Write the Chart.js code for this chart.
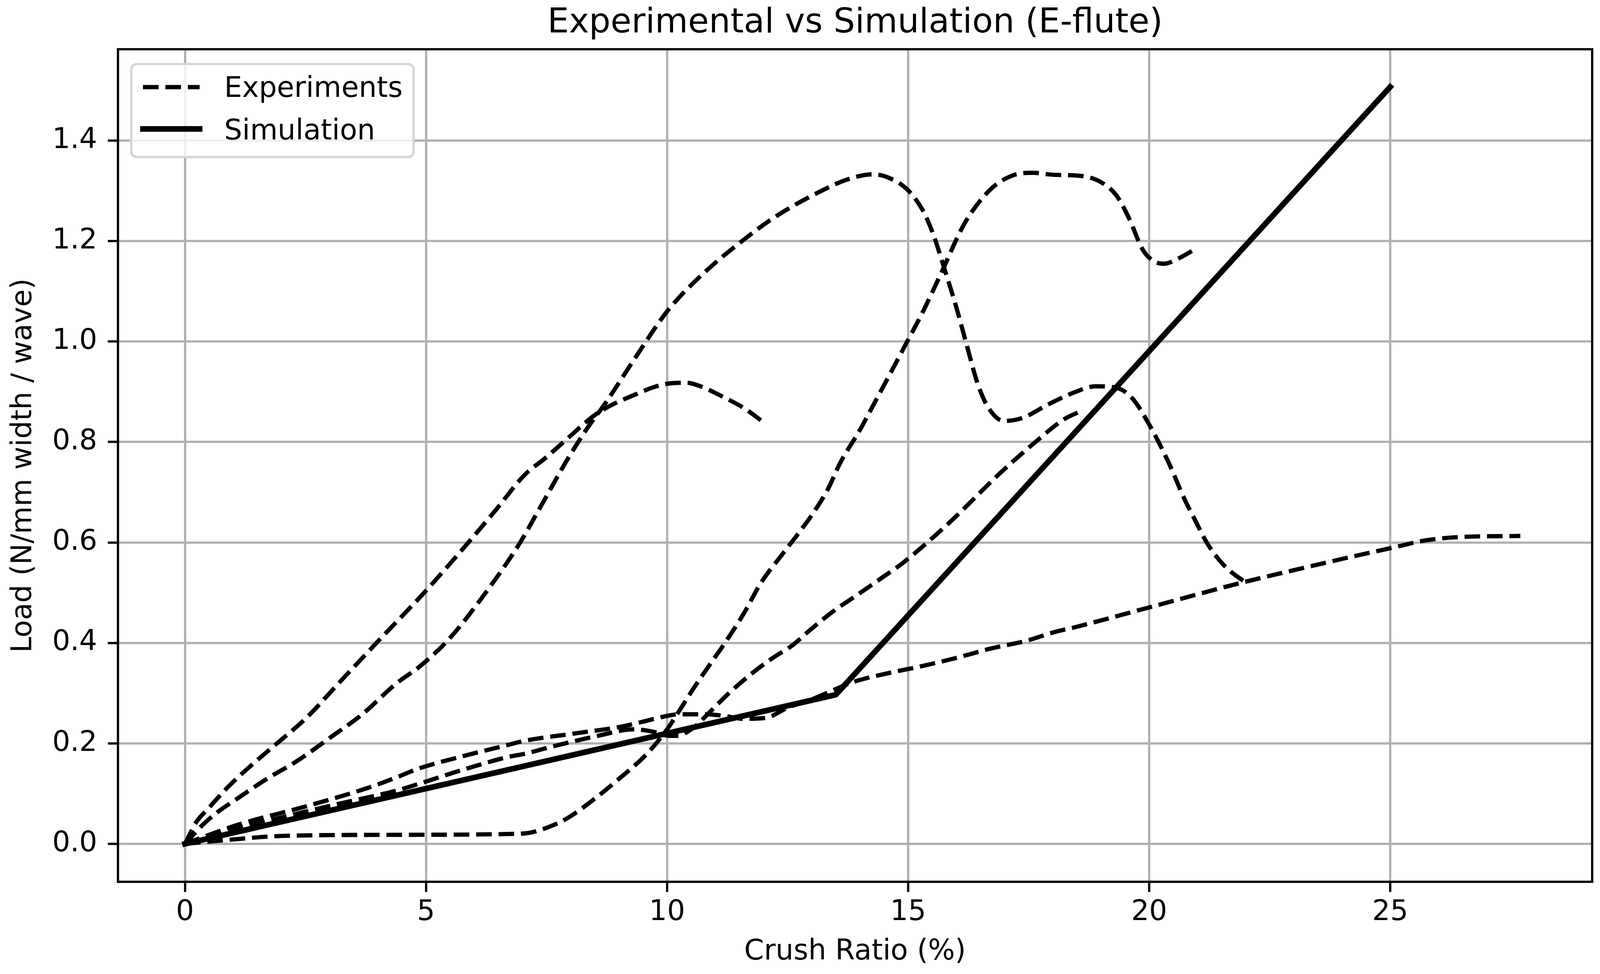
<!DOCTYPE html>
<html>
<head>
<meta charset="utf-8">
<script src="https://cdn.jsdelivr.net/npm/chart.js@4.4.0/dist/chart.umd.min.js"></script>
<style>
  html, body { margin: 0; padding: 0; background: #fff; }
  #wrap { width: 4135px; height: 2493px; }
</style>
</head>
<body>
<div id="wrap"><canvas id="chart" width="4135" height="2493"></canvas></div>
<script>
// Axis ticks
const xTicks = [0, 5, 10, 15, 20, 25];
const yTicks = [0, 0.2, 0.4, 0.6, 0.8, 1.0, 1.2, 1.4];

const expAX = [0, 0.24, 0.48, 0.9, 1.36, 1.97, 2.52, 3.18, 4.1, 4.98, 5.86, 6.45, 7.04, 7.5, 7.9, 8.55, 9.3, 10.0, 10.41, 10.69, 11.16, 11.62, 11.95];
const expAY = [0, 0.044, 0.07, 0.114, 0.155, 0.205, 0.251, 0.319, 0.413, 0.502, 0.598, 0.665, 0.734, 0.77, 0.804, 0.857, 0.893, 0.916, 0.918, 0.911, 0.89, 0.866, 0.843];

const expBX = [0, 0.38, 0.66, 1.13, 1.69, 2.34, 2.99, 3.69, 4.38, 4.88, 5.47, 6.16, 6.94, 7.34, 7.9, 8.32, 8.74, 9.39, 10.0, 10.69, 11.62, 12.27, 13.2, 13.78, 14.27, 14.6, 14.98, 15.3, 15.52, 15.74, 16.01, 16.23, 16.44, 16.66, 16.99, 17.37, 17.91, 18.45, 18.89, 19.32, 19.65, 19.97, 20.4, 20.73, 20.95, 21.17, 21.38, 21.6, 21.92, 22.03];
const expBY = [0, 0.039, 0.062, 0.093, 0.129, 0.166, 0.21, 0.259, 0.319, 0.354, 0.407, 0.49, 0.598, 0.665, 0.76, 0.824, 0.88, 0.975, 1.06, 1.13, 1.205, 1.25, 1.3, 1.324, 1.333, 1.326, 1.303, 1.262, 1.214, 1.149, 1.065, 0.988, 0.917, 0.869, 0.842, 0.848, 0.875, 0.899, 0.911, 0.908, 0.887, 0.84, 0.76, 0.687, 0.645, 0.604, 0.574, 0.55, 0.526, 0.52];

const expCX = [0, 0.5, 1.13, 2.52, 3.78, 4.38, 4.85, 5.78, 6.7, 7.03, 8.1, 9.03, 9.49, 9.96, 10.24, 10.8, 11.17, 11.59, 12.05, 12.52, 12.98, 13.45, 13.82, 14.69, 15.2, 15.99, 16.72, 17.44, 18.05, 18.45, 19.97, 21.92, 23.23, 24.31, 25.02, 25.72, 26.48, 27.7];
const expCY = [0, 0.018, 0.039, 0.075, 0.111, 0.132, 0.15, 0.175, 0.197, 0.205, 0.22, 0.233, 0.243, 0.254, 0.258, 0.258, 0.255, 0.249, 0.251, 0.272, 0.287, 0.306, 0.321, 0.342, 0.352, 0.37, 0.389, 0.404, 0.422, 0.431, 0.47, 0.52, 0.55, 0.574, 0.589, 0.604, 0.611, 0.613];

const expDX = [0, 0.5, 1.0, 2.06, 3.2, 4.38, 5.78, 6.7, 7.03, 7.63, 8.56, 9.31, 9.73, 10.05, 10.24, 10.42, 10.61, 10.8, 11.12, 11.35, 11.82, 12.19, 12.61, 12.92, 13.46, 13.89, 14.4, 14.9, 15.85, 16.93, 17.69, 18.23, 18.62];
const expDY = [0, 0.014, 0.028, 0.054, 0.08, 0.106, 0.148, 0.173, 0.179, 0.194, 0.215, 0.228, 0.223, 0.215, 0.215, 0.223, 0.236, 0.254, 0.285, 0.306, 0.344, 0.37, 0.396, 0.422, 0.464, 0.492, 0.526, 0.56, 0.639, 0.74, 0.804, 0.845, 0.863];

const expEX = [0, 0.9, 2.06, 4.38, 6.85, 7.14, 7.5, 7.93, 8.5, 8.91, 9.6, 10.0, 10.3, 10.56, 10.8, 11.2, 11.6, 11.95, 12.37, 12.7, 13.02, 13.33, 13.6, 14.0, 14.27, 14.65, 14.98, 15.3, 15.68, 16.17, 16.71, 17.15, 17.58, 18.02, 18.56, 18.99, 19.32, 19.59, 19.86, 20.08, 20.3, 20.62, 20.95];
const expEY = [0, 0.008, 0.016, 0.018, 0.02, 0.022, 0.032, 0.051, 0.09, 0.122, 0.181, 0.228, 0.272, 0.311, 0.345, 0.4, 0.46, 0.52, 0.574, 0.615, 0.657, 0.705, 0.76, 0.824, 0.872, 0.94, 1.0, 1.058, 1.135, 1.235, 1.303, 1.33, 1.336, 1.332, 1.33, 1.318, 1.291, 1.244, 1.184, 1.161, 1.155, 1.166, 1.184];

// Simulation (piecewise linear)
const simX = [0, 13.5, 25];
const simY = [0, 0.297, 1.507];

const toPoints = (xs, ys) => xs.map((x, i) => ({ x: x, y: ys[i] }));

const dashedRun = (xs, ys) => ({
    data: toPoints(xs, ys),
    borderColor: '#000',
    borderWidth: 10.9,
    borderDash: [40, 17.4],
    borderJoinStyle: 'round',
    pointRadius: 0,
    fill: false,
    cubicInterpolationMode: 'monotone'
});

// Frame (all four spines) + matplotlib-style legend in upper left
const frameAndLegend = {
    id: 'frameAndLegend',
    afterDraw(chart) {
        const { ctx, chartArea: a } = chart;
        ctx.save();
        ctx.setLineDash([]);
        ctx.strokeStyle = '#000';
        ctx.lineWidth = 5.8;
        ctx.strokeRect(a.left, a.top, a.right - a.left, a.bottom - a.top);

        const fx = a.left + 34, fy = a.top + 38;
        ctx.beginPath();
        ctx.roundRect(fx, fy, 723, 238, 14);
        ctx.fillStyle = 'rgba(255,255,255,0.8)';
        ctx.fill();
        ctx.strokeStyle = '#d6d6d6';
        ctx.lineWidth = 6;
        ctx.stroke();

        // Experiments handle
        ctx.strokeStyle = '#000';
        ctx.lineWidth = 10.9;
        ctx.lineCap = 'butt';
        ctx.setLineDash([40, 17.4]);
        ctx.beginPath();
        ctx.moveTo(a.left + 64, a.top + 97);
        ctx.lineTo(a.left + 209, a.top + 97);
        ctx.stroke();

        // Simulation handle
        ctx.setLineDash([]);
        ctx.lineWidth = 14.5;
        ctx.lineCap = 'square';
        ctx.beginPath();
        ctx.moveTo(a.left + 64, a.top + 204);
        ctx.lineTo(a.left + 209, a.top + 204);
        ctx.stroke();

        ctx.fillStyle = '#000';
        ctx.font = '72.5px "DejaVu Sans"';
        ctx.textAlign = 'left';
        ctx.textBaseline = 'alphabetic';
        ctx.fillText('Experiments', a.left + 272, a.top + 122);
        ctx.fillText('Simulation', a.left + 272, a.top + 231);
        ctx.restore();
    }
};

Chart.defaults.font.family = '"DejaVu Sans", sans-serif';
Chart.defaults.color = '#000';

new Chart(document.getElementById('chart'), {
    type: 'line',
    data: {
        datasets: [
            dashedRun(expAX, expAY),
            dashedRun(expBX, expBY),
            dashedRun(expCX, expCY),
            dashedRun(expDX, expDY),
            dashedRun(expEX, expEY),
            {
                data: toPoints(simX, simY),
                borderColor: '#000',
                borderWidth: 14.5,
                borderCapStyle: 'square',
                borderJoinStyle: 'round',
                pointRadius: 0,
                fill: false,
                tension: 0
            }
        ]
    },
    options: {
        responsive: false,
        animation: false,
        devicePixelRatio: 1,
        layout: { padding: { left: 0, right: 59, top: 0, bottom: 0 } },
        plugins: {
            legend: { display: false },
            tooltip: { enabled: false },
            title: {
                display: true,
                text: 'Experimental vs Simulation (E-flute)',
                fullSize: false,
                color: '#000',
                font: { size: 87, weight: 'normal' },
                padding: { top: 8, bottom: 13.6 }
            }
        },
        scales: {
            x: {
                type: 'linear',
                min: -1.39,
                max: 29.19,
                afterBuildTicks: s => { s.ticks = xTicks.map(v => ({ value: v })); },
                afterFit: s => { s.height = 236; },
                grid: { color: '#b0b0b0', lineWidth: 5.8, tickColor: '#000', tickWidth: 5.8, tickLength: 26 },
                border: { display: false },
                ticks: { font: { size: 72.5 }, padding: 10, maxRotation: 0, autoSkip: false, callback: v => String(v) },
                title: { display: true, text: 'Crush Ratio (%)', font: { size: 72.5 }, padding: { top: 0, bottom: 12 } }
            },
            y: {
                type: 'linear',
                min: -0.0755,
                max: 1.582,
                afterBuildTicks: s => { s.ticks = yTicks.map(v => ({ value: v })); },
                afterFit: s => { s.width = 302; },
                grid: { color: '#b0b0b0', lineWidth: 5.8, tickColor: '#000', tickWidth: 5.8, tickLength: 26 },
                border: { display: false },
                ticks: { font: { size: 72.5 }, padding: 27, autoSkip: false, callback: v => v.toFixed(1) },
                title: { display: true, text: 'Load (N/mm width / wave)', font: { size: 72.5 }, padding: { top: 18, bottom: 0 } }
            }
        }
    },
    plugins: [frameAndLegend]
});
</script>
</body>
</html>
